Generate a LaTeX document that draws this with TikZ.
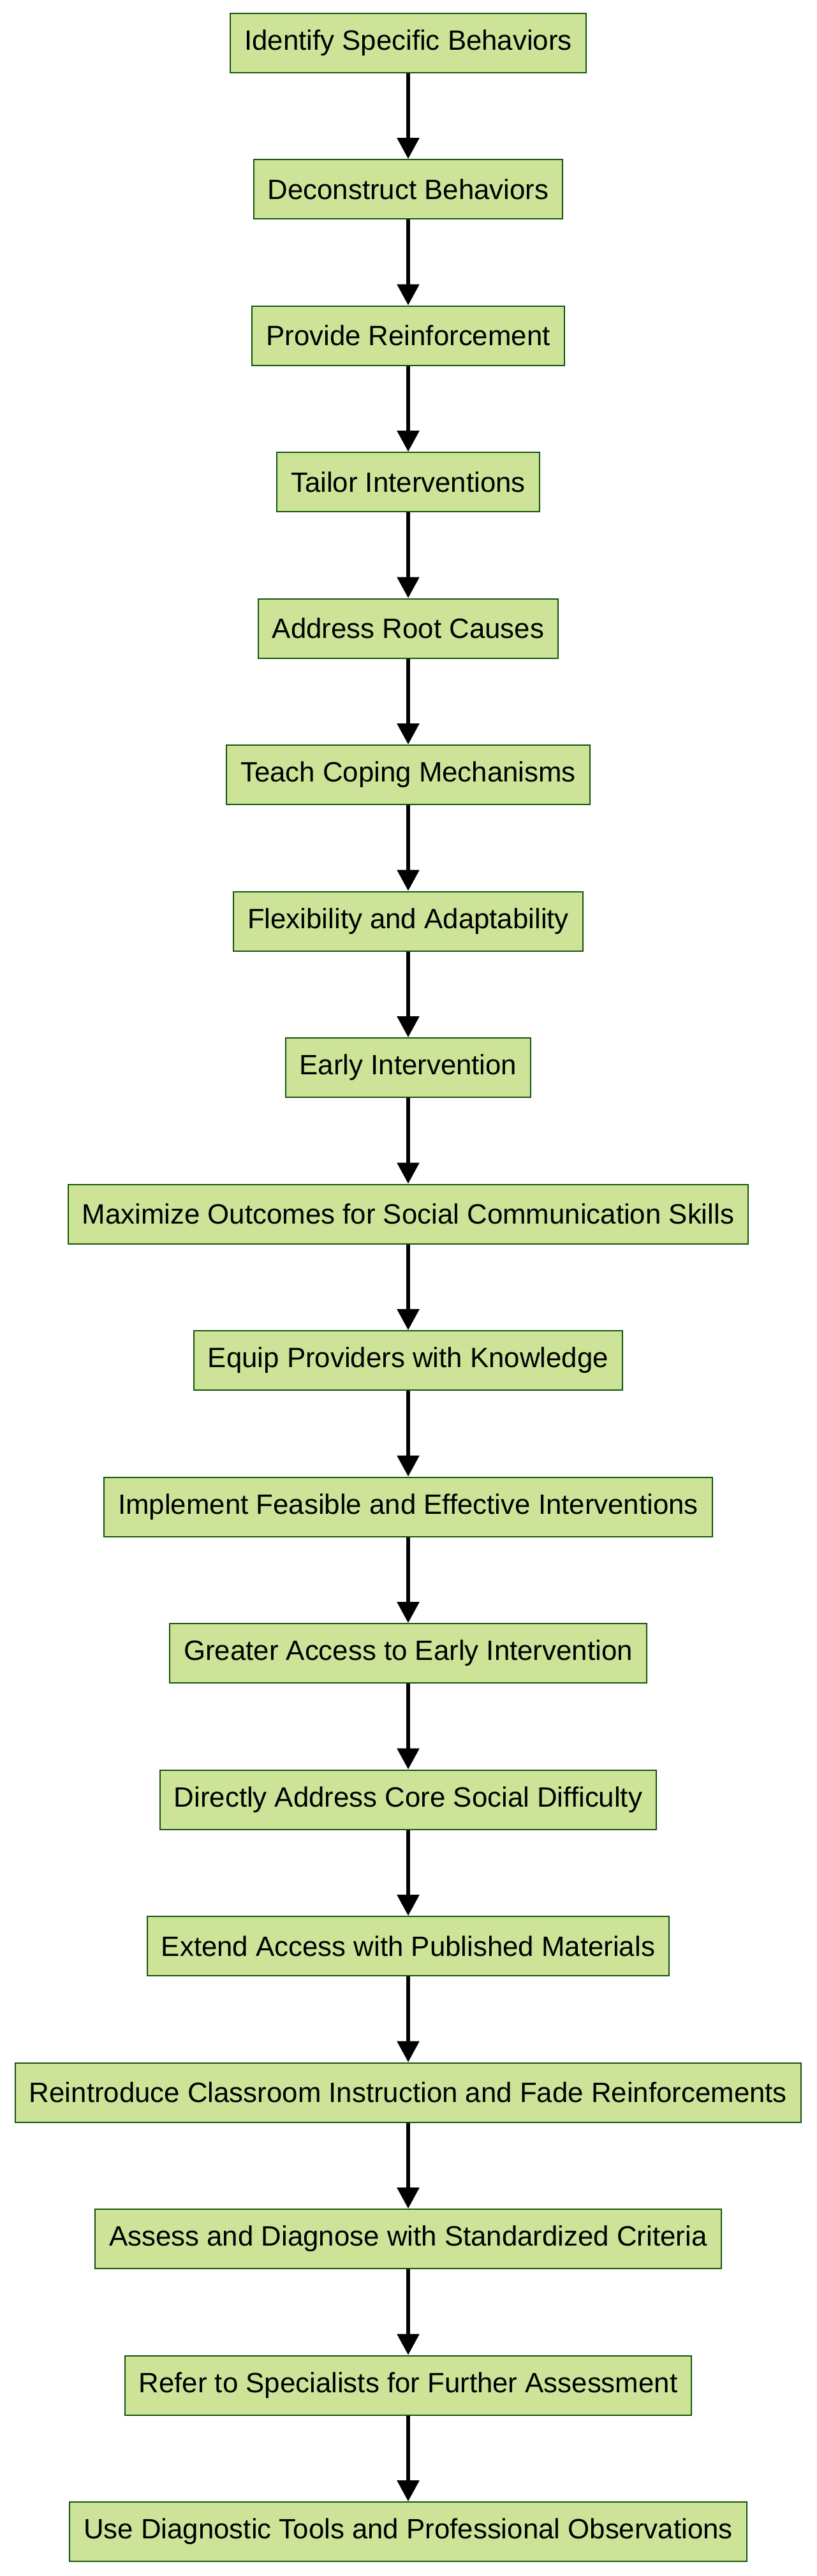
\documentclass[tikz,border=0pt]{standalone}
\usepackage{fontspec}
\setmainfont{Liberation Sans}
\usepackage{tikz}
\usetikzlibrary{positioning,arrows.meta}
\usepackage{xcolor}
\definecolor{boxfill}{HTML}{CDE498}
\definecolor{boxline}{HTML}{13540C}

\begin{document}
\begin{tikzpicture}[
  font=\fontsize{21.9}{26}\selectfont,
  node distance=67.25pt,
  task/.style={draw=boxline, line width=1pt, fill=boxfill, minimum height=46.5pt, inner xsep=11pt, align=center},
  flow/.style={-{Triangle[length=16.5pt,width=17pt]}, line width=3pt, black},
]
\useasboundingbox (0,0) rectangle (640pt,-2019pt);

% Steps (top to bottom)
\node[task] (ident) at (320pt,-33.5pt) {Identify Specific Behaviors};
\node[task, below=of ident] (decon) {Deconstruct Behaviors};
\node[task, below=of decon] (reinf) {Provide Reinforcement};
\node[task, below=of reinf] (tailor) {Tailor Interventions};
\node[task, below=of tailor] (root) {Address Root Causes};
\node[task, below=of root] (coping) {Teach Coping Mechanisms};
\node[task, below=of coping] (flex) {Flexibility and Adaptability};
\node[task, below=of flex] (early) {Early Intervention};
\node[task, below=of early] (maxout) {Maximize Outcomes for Social Communication Skills};
\node[task, below=of maxout] (equip) {Equip Providers with Knowledge};
\node[task, below=of equip] (impl) {Implement Feasible and Effective Interventions};
\node[task, below=of impl] (access) {Greater Access to Early Intervention};
\node[task, below=of access] (core) {Directly Address Core Social Difficulty};
\node[task, below=of core] (extend) {Extend Access with Published Materials};
\node[task, below=of extend] (reintro) {Reintroduce Classroom Instruction and Fade Reinforcements};
\node[task, below=of reintro] (assess) {Assess and Diagnose with Standardized Criteria};
\node[task, below=of assess] (refer) {Refer to Specialists for Further Assessment};
\node[task, below=of refer] (diag) {Use Diagnostic Tools and Professional Observations};

% Arrows
\draw[flow] (ident) -- (decon);
\draw[flow] (decon) -- (reinf);
\draw[flow] (reinf) -- (tailor);
\draw[flow] (tailor) -- (root);
\draw[flow] (root) -- (coping);
\draw[flow] (coping) -- (flex);
\draw[flow] (flex) -- (early);
\draw[flow] (early) -- (maxout);
\draw[flow] (maxout) -- (equip);
\draw[flow] (equip) -- (impl);
\draw[flow] (impl) -- (access);
\draw[flow] (access) -- (core);
\draw[flow] (core) -- (extend);
\draw[flow] (extend) -- (reintro);
\draw[flow] (reintro) -- (assess);
\draw[flow] (assess) -- (refer);
\draw[flow] (refer) -- (diag);

\end{tikzpicture}
\end{document}
